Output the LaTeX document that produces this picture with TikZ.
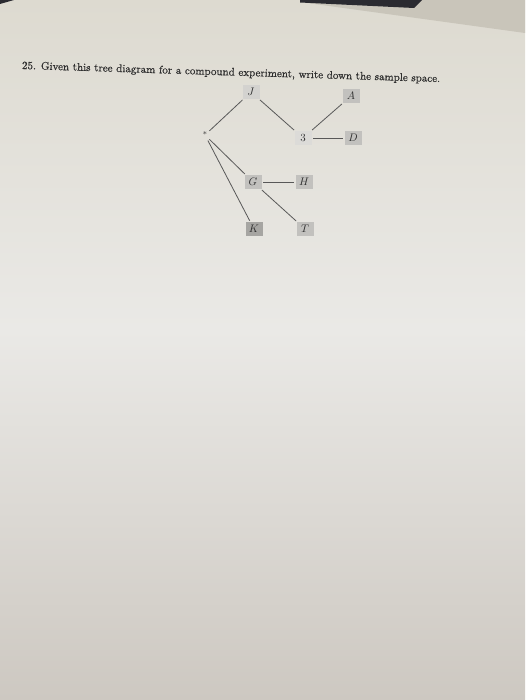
\documentclass[tikz,border=0pt]{standalone}
\usepackage{fontspec}
\newfontfamily\titlefont{Latin Modern Roman}[FakeBold=0.6]
\usetikzlibrary{shapes.geometric}
\definecolor{pagetop}{HTML}{DDDAD0}
\definecolor{pagemid}{HTML}{EAE9E6}
\definecolor{pagebot}{HTML}{CDC8C1}
\definecolor{offpage}{HTML}{C9C5BA}
\definecolor{darkedge}{HTML}{2A2A30}
\definecolor{inkc}{HTML}{2E2E2E}
\definecolor{boxlight}{HTML}{D3D2CF}
\definecolor{boxmid}{HTML}{C2C1BE}
\definecolor{boxdark}{HTML}{A6A5A2}
\tikzset{
  leaf/.style={rectangle, inner sep=0pt, minimum width=17pt, minimum height=13.5pt,
    font=\fontsize{10.5}{11}\selectfont, text=inkc},
  branch/.style={draw=inkc!80, line width=0.8pt, shorten <=1.5pt, shorten >=1.5pt}
}
\begin{document}
\begin{tikzpicture}[x=1pt,y=-1pt]
\useasboundingbox (0,0) rectangle (525,700);
% page
\shade[top color=pagetop, bottom color=pagemid] (0,0) rectangle (525,330);
\shade[top color=pagemid, bottom color=pagebot] (0,330) rectangle (525,700);
\fill[offpage] (300,0) -- (525,0) -- (525,33) -- (300,2) -- cycle;
\fill[darkedge] (300,0) -- (422,0) -- (414,8) -- (300,2.5) -- cycle;
\fill[darkedge] (0,0) -- (14,0) -- (0,4) -- cycle;
% title
\node[rotate=-1.8, anchor=base, text=inkc, font=\titlefont\fontsize{11}{13}\selectfont, inner sep=0pt] (title) at (231,75.5)
  {25. Given this tree diagram for a compound experiment, write down the sample space.};
% tree
\node[font=\fontsize{8}{9}\selectfont, text=inkc, inner sep=1pt] (root) at (205,135) {*};
\node[leaf, fill=boxlight] (J) at (251,92) {$J$};
\node[leaf, fill=boxmid] (A) at (351,96) {$A$};
\node[leaf, fill=boxlight!60!pagemid] (n3) at (303,138) {$3$};
\node[leaf, fill=boxmid] (D) at (353,138) {$D$};
\node[leaf, fill=boxmid] (G) at (253,182) {$G$};
\node[leaf, fill=boxmid] (H) at (304,182) {$H$};
\node[leaf, fill=boxdark] (K) at (254,229) {$K$};
\node[leaf, fill=boxmid] (T) at (305,229) {$T$};
\draw[branch] (root) -- (J);
\draw[branch] (J) -- (n3);
\draw[branch] (n3) -- (A);
\draw[branch] (n3) -- (D);
\draw[branch] (root) -- (G);
\draw[branch] (root) -- (K);
\draw[branch] (G) -- (H);
\draw[branch] (G) -- (T);
\end{tikzpicture}
\end{document}
